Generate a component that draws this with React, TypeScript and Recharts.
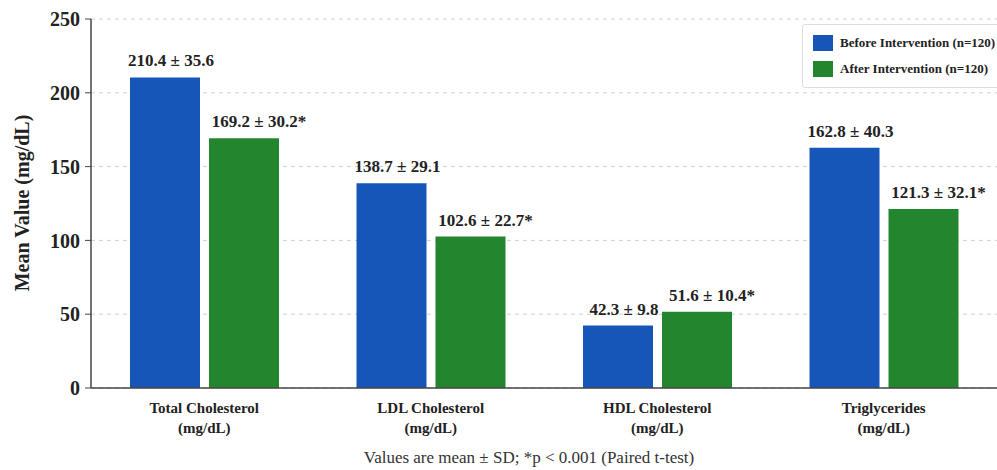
import React from 'react'
import { BarChart, Bar, XAxis, YAxis, CartesianGrid, LabelList } from 'recharts'

const categories = ['Total Cholesterol', 'LDL Cholesterol', 'HDL Cholesterol', 'Triglycerides']
const unitLine = '(mg/dL)'
const beforeMean = [210.4, 138.7, 42.3, 162.8]
const beforeSd = [35.6, 29.1, 9.8, 40.3]
const afterMean = [169.2, 102.6, 51.6, 121.3]
const afterSd = [30.2, 22.7, 10.4, 32.1]
const yTicks = [0, 50, 100, 150, 200, 250]
const seriesNames = ['Before Intervention (n=120)', 'After Intervention (n=120)']

const BLUE = '#1656b8'
const GREEN = '#23862f'
const FONT = '"Liberation Serif", "Times New Roman", serif'

const data = categories.map((name, i) => ({
  name,
  before: beforeMean[i],
  beforeLabel: `${beforeMean[i]} ± ${beforeSd[i]}`,
  after: afterMean[i],
  afterLabel: `${afterMean[i]} ± ${afterSd[i]}*`
}))

// two-line category tick
const CategoryTick = (props: any) => {
  const { x, y, payload } = props
  return (
    <g transform={`translate(${x},${y})`}>
      <text x={0} y={17} textAnchor='middle' fontFamily={FONT} fontWeight='bold' fontSize={15} fill='#222'>
        {payload.value}
      </text>
      <text x={0} y={37} textAnchor='middle' fontFamily={FONT} fontWeight='bold' fontSize={15} fill='#222'>
        {unitLine}
      </text>
    </g>
  )
}

// value ± sd above each bar, nudged a little right like the original
const makeValueLabel = (dx: number) => (props: any) => {
  const { x, y, width, value } = props
  return (
    <text x={x + width / 2 + dx} y={y - 11} textAnchor='middle' fontFamily={FONT} fontWeight='bold' fontSize={17} fill='#222'>
      {value}
    </text>
  )
}
const BeforeLabel = makeValueLabel(6)
const AfterLabel = makeValueLabel(15)

// legend drawn as an overlay so it does not shrink the plot
const LegendBox = () => (
  <div
    style={{
      position: 'absolute',
      top: 24,
      left: 802,
      border: '1px solid #ddd',
      borderRadius: 3,
      background: '#fff',
      padding: '5px 10px 5px 10px',
      fontFamily: FONT,
      fontWeight: 'bold',
      fontSize: 13,
      color: '#222',
      width: 215,
      boxSizing: 'border-box'
    }}
  >
    {seriesNames.map((t, i) => (
      <div key={t} style={{ display: 'flex', alignItems: 'center', height: 26, whiteSpace: 'nowrap' }}>
        <span style={{ display: 'inline-block', width: 20, height: 16, background: i === 0 ? BLUE : GREEN, marginRight: 7 }} />
        {t}
      </div>
    ))}
  </div>
)

export default function App() {
  return (
    <div style={{ position: 'absolute', left: 0, top: 0, width: 997, height: 470, background: '#fff', overflow: 'hidden' }}>
      <BarChart width={997} height={470} data={data} margin={{ top: 19, right: 0, left: 0, bottom: 0 }} barGap={9} barSize={70}>
        <CartesianGrid vertical={false} stroke='#cfcfcf' strokeDasharray='4 4' />
        <XAxis
          dataKey='name'
          height={82}
          tickLine={false}
          axisLine={{ stroke: '#444', strokeWidth: 1.5 }}
          tick={<CategoryTick />}
          interval={0}
          label={{
            content: () => (
              <text x={529} y={463} textAnchor='middle' fontFamily={FONT} fontSize={17} fill='#333'>
                Values are mean ± SD; *p &lt; 0.001 (Paired t-test)
              </text>
            )
          }}
        />
        <YAxis
          width={91}
          domain={[0, 250]}
          ticks={yTicks}
          tickSize={6}
          tickMargin={5}
          tickLine={{ stroke: '#444' }}
          axisLine={{ stroke: '#444', strokeWidth: 1.5 }}
          tick={{ fontFamily: FONT, fontWeight: 'bold', fontSize: 20, fill: '#222' }}
          label={{
            content: () => (
              <text
                x={22}
                y={203}
                transform='rotate(-90, 22, 203)'
                textAnchor='middle'
                dominantBaseline='central'
                fontFamily={FONT}
                fontWeight='bold'
                fontSize={20}
                fill='#222'
              >
                Mean Value (mg/dL)
              </text>
            )
          }}
        />
        <Bar dataKey='before' name={seriesNames[0]} fill={BLUE} isAnimationActive={false}>
          <LabelList dataKey='beforeLabel' content={<BeforeLabel />} />
        </Bar>
        <Bar dataKey='after' name={seriesNames[1]} fill={GREEN} isAnimationActive={false}>
          <LabelList dataKey='afterLabel' content={<AfterLabel />} />
        </Bar>
      </BarChart>
      <LegendBox />
    </div>
  )
}
